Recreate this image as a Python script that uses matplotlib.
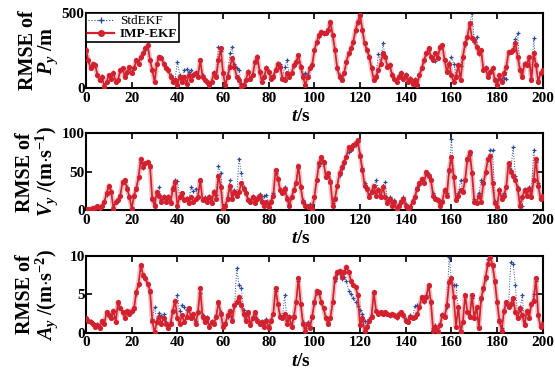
import numpy as np
import matplotlib
matplotlib.use("Agg")
import matplotlib.pyplot as plt
from matplotlib.lines import Line2D

plt.rcParams['font.family'] = ['Liberation Serif', 'DejaVu Serif']
plt.rcParams['font.weight'] = 'bold'
plt.rcParams['mathtext.fontset'] = 'custom'
plt.rcParams['mathtext.rm'] = 'Liberation Serif:bold'
plt.rcParams['mathtext.it'] = 'Liberation Serif:italic:bold'
plt.rcParams['mathtext.bf'] = 'Liberation Serif:bold'

time_s = np.arange(0, 201, 1)

# ---- RMSE of P_y (m) ----
p_imp = [253, 187, 131, 164, 153, 87, 53, 76, 9, 42,
         87, 64, 98, 42, 53, 120, 131, 76, 109, 142,
         98, 131, 187, 164, 209, 231, 264, 287, 187, 120,
         42, 164, 209, 198, 164, 131, 120, 76, 42, 53,
         20, 76, 42, 76, 31, 87, 53, 87, 98, 76,
         187, 76, 53, 42, 20, 42, 98, 76, 187, 264,
         98, 20, 76, 142, 198, 142, 76, 53, 9, 20,
         53, 109, 64, 87, 176, 209, 109, 42, 76, 131,
         109, 64, 76, 120, 164, 142, 64, 53, 98, 76,
         98, 153, 176, 220, 142, 76, 20, 76, 131, 153,
         253, 309, 353, 376, 364, 364, 387, 442, 353, 253,
         131, 76, 53, 98, 176, 231, 264, 309, 387, 442,
         487, 387, 298, 253, 209, 131, 53, 76, 120, 164,
         231, 209, 142, 153, 87, 64, 42, 76, 98, 64,
         87, 42, 64, 31, 53, 20, 87, 131, 187, 231,
         264, 209, 187, 231, 198, 276, 287, 187, 109, 164,
         87, 42, 76, 153, 53, 209, 298, 342, 431, 331,
         320, 276, 231, 253, 120, 131, 76, 109, 131, 53,
         20, 87, 42, 98, 142, 242, 242, 253, 298, 209,
         120, 76, 164, 153, 209, 53, 231, 153, 42, 98,
         120]
p_std = [240, 180, 140, 150, 160, 95, 60, 80, 20, 50,
         90, 70, 105, 50, 60, 115, 125, 85, 100, 135,
         105, 140, 180, 170, 200, 225, 255, 280, 190, 125,
         50, 160, 200, 205, 170, 140, 125, 85, 50, 60,
         176, 90, 55, 120, 125, 110, 120, 95, 105, 85,
         180, 85, 60, 50, 30, 50, 105, 90, 276, 250,
         105, 30, 85, 231, 276, 160, 131, 120, 30, 30,
         60, 115, 70, 95, 180, 215, 115, 50, 85, 140,
         115, 75, 85, 130, 170, 160, 75, 140, 187, 85,
         105, 150, 180, 215, 150, 85, 98, 85, 140, 160,
         245, 300, 340, 370, 360, 370, 380, 430, 345, 260,
         140, 85, 60, 105, 180, 225, 260, 300, 380, 435,
         480, 380, 300, 260, 215, 140, 60, 85, 230, 170,
         298, 215, 150, 160, 95, 70, 50, 85, 105, 70,
         95, 50, 70, 40, 60, 30, 95, 140, 180, 225,
         255, 215, 195, 180, 200, 270, 280, 190, 120, 170,
         209, 160, 85, 160, 150, 200, 290, 335, 420, 500,
         310, 342, 225, 250, 130, 140, 85, 115, 140, 60,
         30, 60, 55, 70, 60, 231, 250, 260, 330, 364,
         130, 85, 170, 160, 200, 70, 331, 160, 55, 105,
         125]

# ---- RMSE of V_y (m/s) ----
v_imp = [1, 1, 2, 3, 3, 5, 3, 6, 11, 22,
         32, 24, 2, 11, 13, 19, 37, 39, 28, 17,
         2, 19, 28, 43, 67, 56, 61, 63, 58, 15,
         6, 24, 19, 11, 17, 11, 17, 9, 28, 37,
         6, 17, 22, 13, 15, 9, 17, 11, 15, 17,
         39, 13, 15, 11, 17, 9, 24, 15, 45, 30,
         0, 6, 15, 32, 15, 24, 19, 24, 35, 28,
         22, 13, 11, 17, 9, 15, 19, 11, 6, 11,
         4, 11, 19, 52, 41, 26, 22, 28, 15, 6,
         17, 26, 35, 58, 30, 11, 6, 4, 6, 2,
         17, 39, 61, 69, 63, 43, 48, 37, 6, 15,
         32, 48, 56, 63, 69, 82, 80, 84, 87, 91,
         71, 52, 32, 28, 17, 24, 32, 19, 26, 17,
         30, 17, 9, 15, 6, 11, 2, 6, 11, 15,
         6, 2, 4, 11, 17, 28, 35, 41, 35, 50,
         45, 39, 19, 15, 13, 6, 11, 26, 19, 52,
         69, 43, 13, 19, 26, 24, 39, 67, 76, 48,
         11, 9, 19, 11, 35, 50, 67, 71, 35, 9,
         4, 26, 15, 19, 30, 61, 50, 45, 39, 28,
         6, 17, 26, 19, 28, 17, 39, 67, 32, 15,
         19]
v_std = [1, 2, 2, 3, 4, 5, 4, 7, 12, 20,
         30, 25, 4, 12, 14, 20, 35, 37, 30, 18,
         4, 20, 30, 42, 63, 55, 60, 62, 55, 17,
         8, 22, 30, 13, 18, 13, 19, 12, 30, 39,
         38, 18, 22, 15, 16, 12, 30, 25, 28, 18,
         36, 15, 17, 13, 18, 12, 25, 20, 58, 48,
         3, 8, 17, 39, 20, 26, 22, 67, 48, 30,
         24, 15, 13, 19, 12, 17, 21, 13, 18, 20,
         8, 13, 22, 48, 42, 28, 24, 30, 17, 8,
         19, 28, 37, 55, 32, 13, 8, 6, 8, 4,
         19, 40, 58, 66, 60, 45, 45, 39, 9, 17,
         33, 46, 54, 60, 71, 75, 78, 82, 85, 88,
         73, 55, 35, 30, 20, 26, 30, 39, 28, 20,
         32, 37, 12, 17, 9, 13, 4, 8, 13, 17,
         8, 4, 6, 13, 19, 30, 33, 39, 37, 47,
         47, 40, 22, 17, 15, 9, 13, 28, 22, 50,
         93, 45, 16, 22, 39, 26, 41, 64, 72, 50,
         14, 11, 22, 39, 37, 48, 65, 78, 78, 12,
         6, 28, 18, 22, 32, 58, 52, 82, 45, 30,
         8, 5, 28, 21, 30, 19, 78, 62, 35, 17,
         21]

# ---- RMSE of A_y (m/s^2) ----
a_imp = [1.9, 1.6, 1.4, 1.2, 0.8, 1.0, 0.6, 1.6, 1.2, 2.7,
         2.3, 1.9, 2.9, 1.4, 4.0, 3.2, 2.7, 1.9, 2.9, 2.5,
         2.9, 3.2, 5.3, 6.4, 8.8, 7.5, 7.1, 6.4, 5.5, 1.6,
         0.1, 1.4, 2.1, 1.2, 1.9, 1.2, 0.6, 1.2, 2.9, 4.2,
         1.9, 1.2, 2.3, 1.4, 2.1, 3.2, 1.9, 2.5, 1.2, 2.7,
         5.8, 2.1, 1.4, 1.9, 0.8, 1.4, 1.2, 2.1, 4.0, 2.5,
         0.8, 1.2, 2.3, 2.9, 1.6, 3.6, 4.0, 4.7, 3.6, 2.5,
         1.6, 2.7, 1.0, 1.9, 2.7, 1.6, 1.2, 1.4, 0.8, 1.6,
         0.6, 1.6, 2.5, 5.8, 3.8, 2.1, 1.9, 2.5, 1.2, 2.1,
         0.8, 2.1, 4.0, 7.1, 3.8, 1.2, 0.3, 1.2, 0.6, 2.1,
         4.0, 5.5, 5.3, 4.0, 3.2, 1.9, 1.2, 1.9, 4.0, 7.1,
         7.9, 8.1, 7.3, 7.9, 8.6, 7.9, 6.8, 6.2, 6.0, 4.9,
         1.0, 1.9, 0.3, 0.8, 1.6, 2.1, 5.3, 2.9, 2.5, 2.7,
         2.5, 2.7, 2.5, 2.3, 2.5, 2.3, 2.1, 2.5, 2.7, 2.3,
         1.6, 1.4, 2.1, 1.9, 2.1, 2.5, 3.4, 4.7, 4.2, 4.7,
         6.2, 4.0, 0.3, 0.8, 0.1, 1.0, 2.3, 2.1, 3.6, 6.6,
         7.1, 4.7, 0.8, 3.4, 0.1, 1.4, 4.9, 2.7, 2.1, 4.9,
         1.9, 3.4, 0.6, 4.5, 5.8, 7.3, 9.0, 9.9, 8.8, 6.8,
         4.0, 1.6, 0.3, 2.9, 4.0, 3.4, 3.8, 4.5, 2.7, 1.9,
         3.2, 2.3, 1.0, 2.9, 1.9, 3.8, 4.2, 7.1, 2.3, 0.8,
         1.2]
a_std = [1.8, 1.7, 1.5, 1.3, 1.0, 1.1, 0.8, 1.5, 1.3, 2.5,
         2.4, 2.0, 2.7, 1.6, 3.8, 3.3, 2.6, 2.0, 2.8, 2.6,
         2.7, 3.0, 5.0, 6.2, 8.5, 7.3, 7.0, 6.2, 5.2, 1.8,
         3.4, 1.6, 2.6, 2.2, 2.4, 1.4, 0.9, 1.4, 2.7, 4.0,
         4.9, 2.8, 3.6, 3.4, 3.0, 3.0, 2.1, 2.4, 1.5, 2.6,
         5.2, 2.3, 1.6, 2.1, 1.0, 1.6, 1.4, 2.3, 3.8, 2.7,
         1.0, 1.4, 2.1, 2.7, 1.8, 3.5, 8.4, 6.2, 5.8, 3.0,
         1.8, 2.5, 1.3, 2.1, 2.5, 1.8, 1.4, 1.6, 1.0, 1.8,
         0.9, 1.8, 2.4, 5.4, 3.6, 2.3, 2.1, 4.9, 1.5, 2.2,
         1.0, 2.3, 4.0, 6.8, 3.6, 1.4, 0.6, 1.4, 0.9, 2.3,
         3.8, 5.2, 5.0, 3.9, 3.3, 2.1, 1.4, 2.1, 4.2, 6.8,
         7.6, 7.8, 7.0, 7.2, 6.8, 5.5, 5.0, 4.5, 4.0, 3.5,
         3.0, 2.5, 1.6, 1.0, 1.8, 2.3, 5.0, 2.7, 2.4, 2.6,
         2.4, 2.6, 2.4, 2.2, 2.4, 2.2, 2.0, 2.4, 2.6, 2.2,
         1.8, 1.6, 2.3, 2.0, 3.5, 3.6, 3.3, 4.5, 4.0, 4.9,
         6.0, 4.2, 0.6, 1.0, 0.4, 1.2, 2.5, 2.3, 3.4, 9.9,
         7.0, 6.2, 6.2, 3.2, 0.4, 1.6, 4.7, 2.9, 2.3, 4.6,
         2.1, 3.3, 0.9, 4.3, 5.6, 7.0, 9.6, 9.7, 8.5, 6.5,
         4.2, 1.8, 0.6, 2.7, 3.8, 3.6, 9.2, 9.0, 6.2, 2.1,
         3.0, 4.9, 1.3, 2.7, 2.1, 3.6, 5.0, 6.8, 2.5, 1.0,
         1.4]

ylabels = ["RMSE of\n$P_y$ /m",
           "RMSE of\n$V_y$ /(m$\\cdot$s$^{-1}$)",
           "RMSE of\n$A_y$ /(m$\\cdot$s$^{-2}$)"]
yticks = [[0, 500], [0, 50, 100], [0, 5, 10]]
ylims = [(0, 500), (0, 100), (0, 10)]
xticks = list(range(0, 201, 20))
legend_labels = ['StdEKF', 'IMP-EKF']

BLUE = '#2a4b9b'
RED = '#d4202c'

fig = plt.figure(figsize=(5.55, 3.72), dpi=100)
rects = [[0.155, 0.763, 0.823, 0.202],
         [0.155, 0.435, 0.823, 0.207],
         [0.155, 0.105, 0.823, 0.207]]
series = [(p_std, p_imp), (v_std, v_imp), (a_std, a_imp)]

for i, (rect, (std, imp)) in enumerate(zip(rects, series)):
    ax = fig.add_axes(rect)
    ax.plot(time_s, std, linestyle=':', lw=0.7, color=BLUE, marker='+',
            ms=3.5, mew=0.9, zorder=2)
    ax.plot(time_s, imp, linestyle='-', lw=3.6, color=RED, alpha=0.28, zorder=3)
    ax.plot(time_s, imp, linestyle='-', lw=1.2, color=RED, marker='o',
            ms=3.7, mew=0, zorder=4)
    ax.set_xlim(0, 200)
    ax.set_ylim(*ylims[i])
    ax.set_xticks(xticks)
    ax.set_yticks(yticks[i])
    ax.tick_params(direction='in', top=True, right=True, length=4, width=1.2,
                   labelsize=11, pad=1)
    ax.tick_params(axis='x', pad=2.5)
    for lab in ax.get_xticklabels() + ax.get_yticklabels():
        lab.set_fontweight('bold')
    for sp in ax.spines.values():
        sp.set_linewidth(1.5)
    ax.set_ylabel(ylabels[i], fontsize=14.5, fontweight='bold', linespacing=0.95)
    ax.yaxis.set_label_coords(-0.056, 0.5)
    ax.set_xlabel("$t$/s", fontsize=14, fontweight='bold')
    ax.xaxis.set_label_coords(0.47, -0.26)
    if i == 0:
        handles = [Line2D([], [], linestyle=':', lw=0.8, color=BLUE, marker='+', ms=4),
                   Line2D([], [], linestyle='-', lw=1.6, color=RED, marker='o', ms=4)]
        leg = ax.legend(handles, legend_labels, loc='upper left',
                        fontsize=9.5, frameon=True, fancybox=False,
                        borderpad=0.15, labelspacing=0.05, handlelength=2.0,
                        handletextpad=0.4, borderaxespad=0)
        leg.get_frame().set_edgecolor('black')
        leg.get_frame().set_linewidth(1.2)
        leg.get_frame().set_alpha(1)
        leg.get_texts()[0].set_fontweight('normal')
        leg.set_zorder(10)

fig.savefig("out.png", dpi=100)
